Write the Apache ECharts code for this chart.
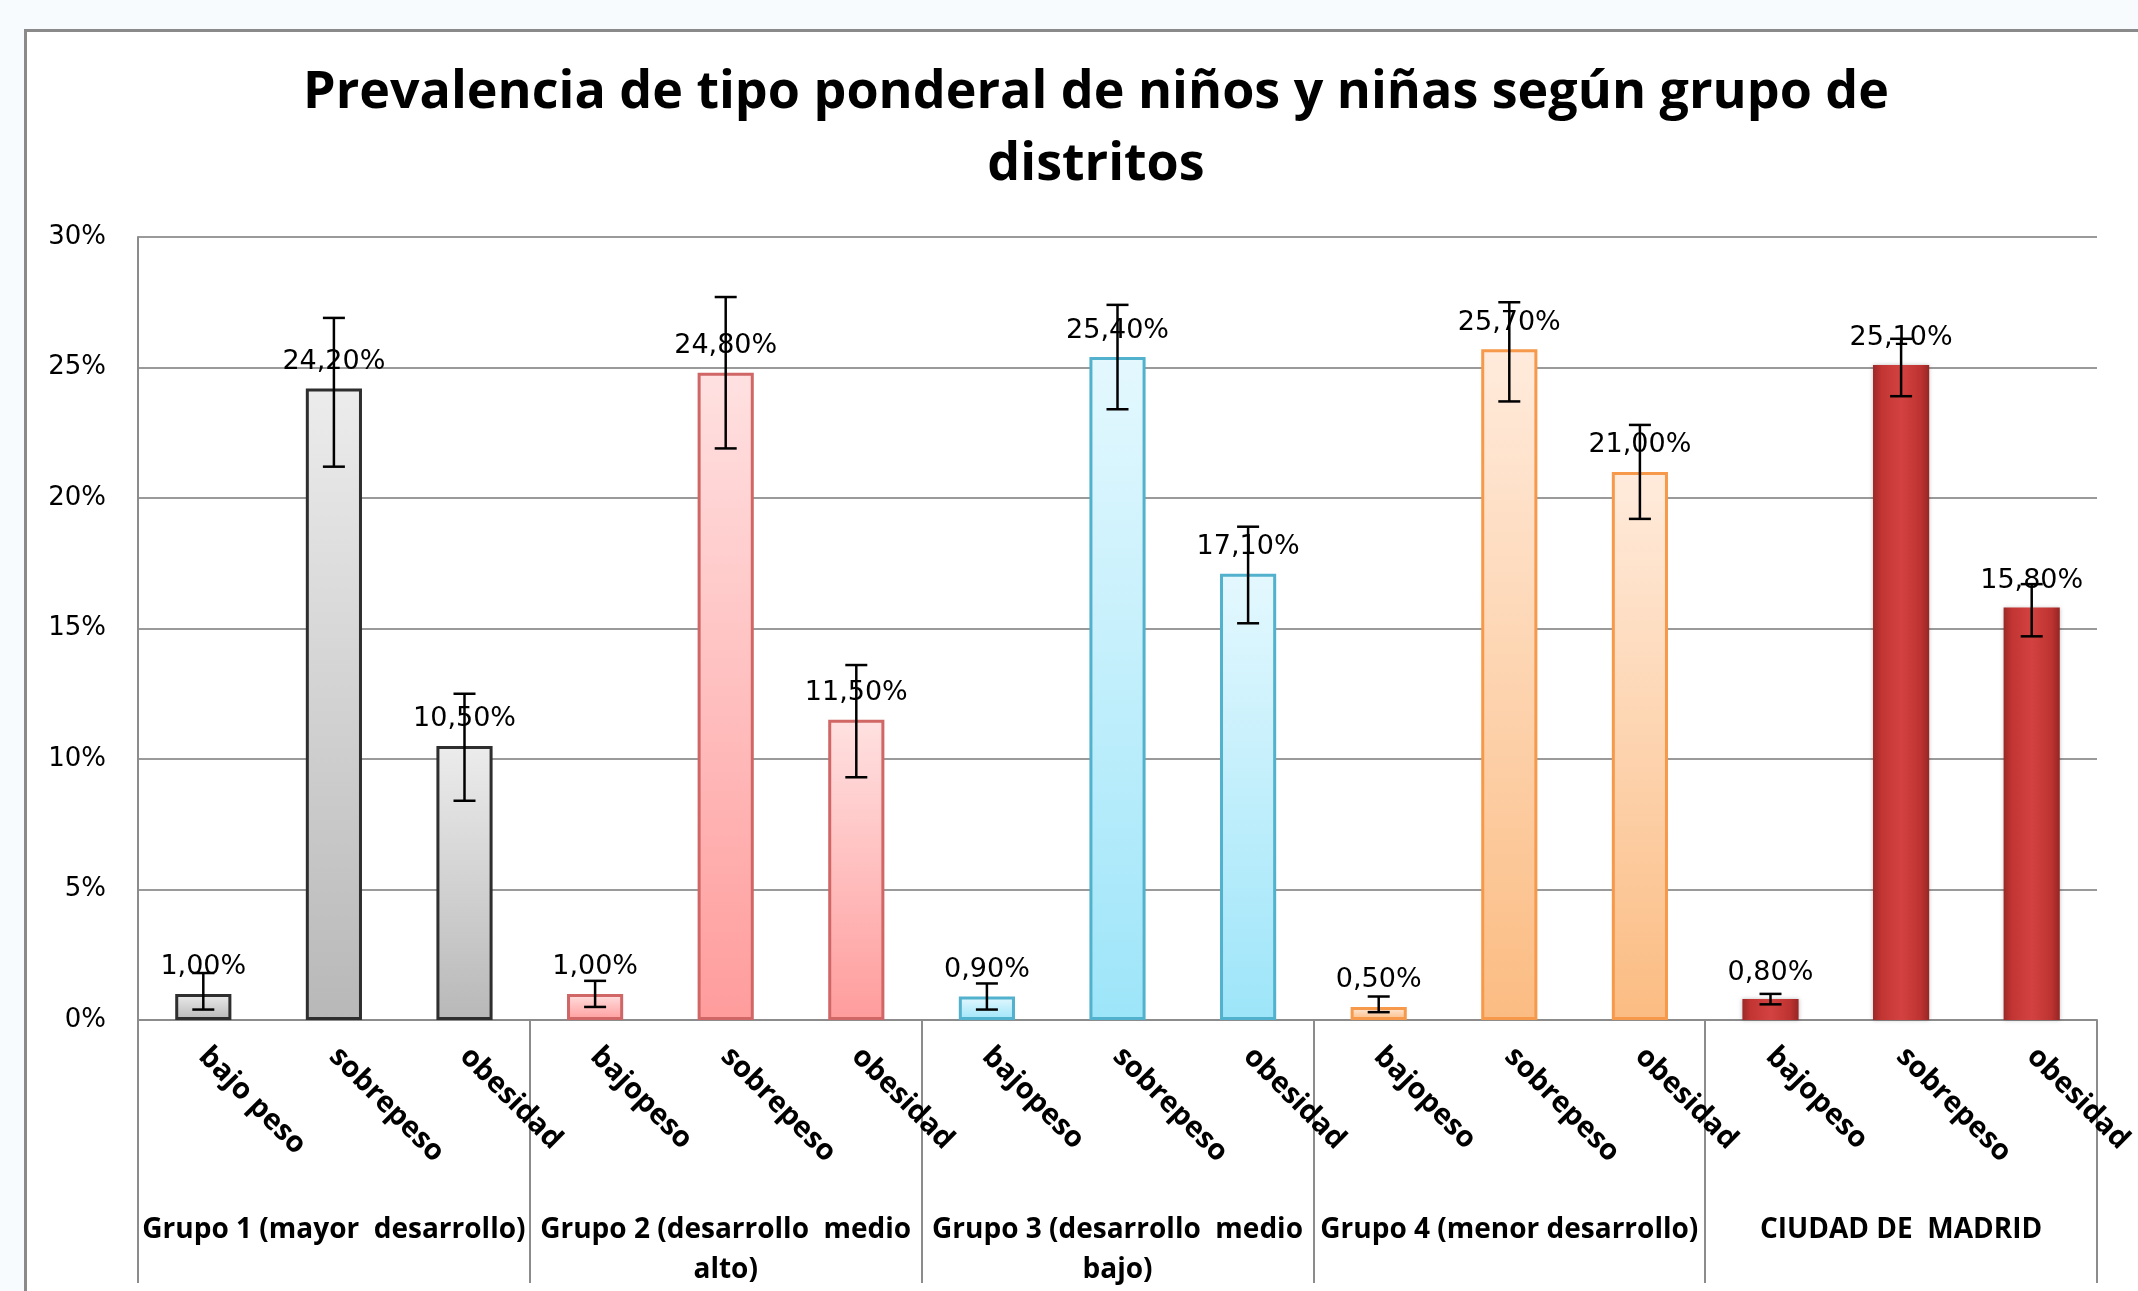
<!DOCTYPE html>
<html>
<head>
<meta charset="utf-8">
<title>Prevalencia de tipo ponderal</title>
<script src="https://cdn.jsdelivr.net/npm/echarts@6/dist/echarts.min.js"></script>
<style>
  html, body { margin: 0; padding: 0; background: #f7fbfd; }
  #frame {
    position: absolute; left: 24px; top: 29px; right: 0; bottom: 0;
    background: #fff; border-left: 3px solid #8a8a8a; border-top: 3px solid #8a8a8a;
  }
  #chart { position: absolute; left: 0; top: 0; width: 2138px; height: 1291px; }
</style>
</head>
<body>
<div id="frame"></div>
<div id="chart"></div>
<script>
// categorias (tipo ponderal) y grupos de distritos
var categories = [
  'bajo peso', 'sobrepeso', 'obesidad',
  'bajopeso', 'sobrepeso', 'obesidad',
  'bajopeso', 'sobrepeso', 'obesidad',
  'bajopeso', 'sobrepeso', 'obesidad',
  'bajopeso', 'sobrepeso', 'obesidad'
]
var groups = [
  'Grupo 1 (mayor  desarrollo)',
  'Grupo 2 (desarrollo  medio\nalto)',
  'Grupo 3 (desarrollo  medio\nbajo)',
  'Grupo 4 (menor desarrollo)',
  'CIUDAD DE  MADRID'
]
// prevalencia (%)
var values = [1.0, 24.2, 10.5, 1.0, 24.8, 11.5, 0.9, 25.4, 17.1, 0.5, 25.7, 21.0, 0.8, 25.1, 15.8]
// intervalos (barras de error)
var errLow = [0.4, 21.2, 8.4, 0.5, 21.9, 9.3, 0.4, 23.4, 15.2, 0.3, 23.7, 19.2, 0.6, 23.9, 14.7]
var errHigh = [1.8, 26.9, 12.5, 1.5, 27.7, 13.6, 1.4, 27.4, 18.9, 0.9, 27.5, 22.8, 1.0, 26.1, 16.7]
var yTicks = [0, 5, 10, 15, 20, 25, 30]

var chart = echarts.init(document.getElementById('chart'))

function vgrad(top, bottom) {
  return new echarts.graphic.LinearGradient(0, 0, 0, 1, [
    { offset: 0, color: top },
    { offset: 1, color: bottom }
  ])
}
var groupStyles = [
  { color: vgrad('#ececec', '#b8b8b8'), borderColor: '#2e2e2e', borderWidth: 3 },
  { color: vgrad('#ffe1e1', '#ff9c9c'), borderColor: '#d06666', borderWidth: 3 },
  { color: vgrad('#e4f8fe', '#9de5f9'), borderColor: '#52b1cc', borderWidth: 3 },
  { color: vgrad('#ffebdc', '#fbbc82'), borderColor: '#f7994a', borderWidth: 3 },
  {
    color: new echarts.graphic.LinearGradient(0, 0, 1, 0, [
      { offset: 0, color: '#9c2826' },
      { offset: 0.15, color: '#c23533' },
      { offset: 0.5, color: '#d34240' },
      { offset: 0.85, color: '#bd3331' },
      { offset: 1, color: '#962624' }
    ]),
    borderWidth: 0,
    shadowColor: 'rgba(0,0,0,0.25)', shadowBlur: 4
  }
]

var barData = values.map(function (v, i) {
  return { value: v, itemStyle: groupStyles[Math.floor(i / 3)] }
})
var errData = values.map(function (v, i) {
  return [i, errLow[i], errHigh[i]]
})

var option = {
  backgroundColor: 'transparent',
  animation: false,
  title: {
    text: 'Prevalencia de tipo ponderal de niños y niñas según grupo de\ndistritos',
    left: 1091,
    top: 52,
    textAlign: 'center',
    textStyle: {
      fontFamily: 'Open Sans',
      fontWeight: 'bold',
      fontSize: 52,
      lineHeight: 72,
      color: '#000'
    }
  },
  grid: { left: 138, right: 41, top: 237, bottom: 271 },
  xAxis: [{
    type: 'category',
    data: categories,
    axisLine: { lineStyle: { color: '#8c8c8c', width: 2 } },
    axisTick: { show: false },
    axisLabel: {
      interval: 0,
      rotate: -45,
      margin: 32,
      fontFamily: 'Open Sans',
      fontWeight: 'bold',
      fontSize: 29,
      color: '#000'
    }
  }, {
    type: 'category',
    data: groups,
    position: 'bottom',
    axisLine: { show: false },
    axisTick: { show: true, length: 263, interval: 0, lineStyle: { color: '#8c8c8c', width: 2 } },
    axisLabel: {
      interval: 0,
      margin: 190,
      fontFamily: 'Open Sans',
      fontWeight: 'bold',
      fontSize: 28,
      lineHeight: 40,
      color: '#000'
    }
  }],
  yAxis: {
    type: 'value',
    min: 0,
    max: 30,
    interval: 5,
    axisLine: { show: true, lineStyle: { color: '#8c8c8c', width: 2 } },
    axisTick: { show: false },
    splitLine: { lineStyle: { color: '#9a9a9a', width: 2 } },
    axisLabel: {
      margin: 32,
      fontFamily: 'DejaVu Sans',
      fontSize: 26,
      color: '#000',
      formatter: function (v) { return yTicks.indexOf(v) >= 0 ? v + '%' : '' }
    }
  },
  series: [{
    type: 'bar',
    data: barData,
    barWidth: '43%',
    label: {
      show: true,
      position: 'top',
      distance: 13,
      fontFamily: 'DejaVu Sans',
      fontSize: 27,
      color: '#000',
      formatter: function (p) { return p.value.toFixed(2).replace('.', ',') + '%' }
    }
  }, {
    type: 'custom',
    data: errData,
    encode: { x: 0, y: [1, 2] },
    z: 10,
    renderItem: function (params, api) {
      var lo = api.coord([api.value(0), api.value(1)])
      var hi = api.coord([api.value(0), api.value(2)])
      var w = 11
      var st = { stroke: '#000', lineWidth: 2.5 }
      return {
        type: 'group',
        children: [
          { type: 'line', shape: { x1: lo[0], y1: lo[1], x2: hi[0], y2: hi[1] }, style: st },
          { type: 'line', shape: { x1: lo[0] - w, y1: lo[1], x2: lo[0] + w, y2: lo[1] }, style: st },
          { type: 'line', shape: { x1: hi[0] - w, y1: hi[1], x2: hi[0] + w, y2: hi[1] }, style: st }
        ]
      }
    }
  }]
}

chart.setOption(option)
</script>
</body>
</html>
